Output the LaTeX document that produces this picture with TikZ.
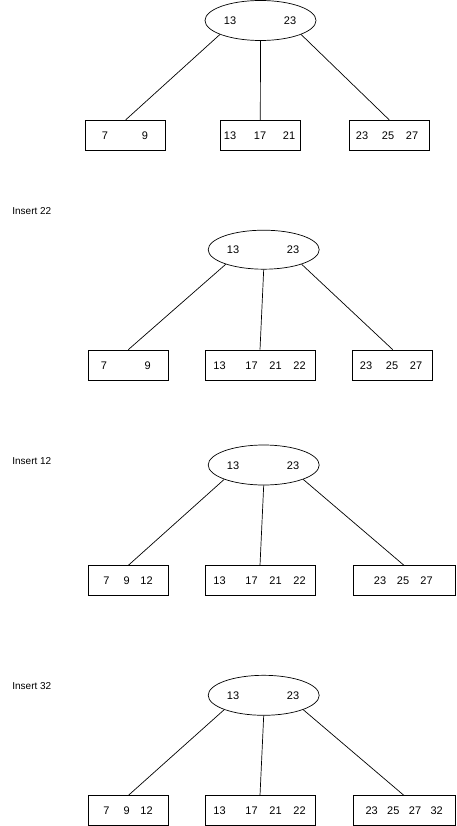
\documentclass[tikz,border=0pt]{standalone}
\usepackage{fontspec}
\setmainfont{Liberation Sans}
\usetikzlibrary{shapes.geometric}
\begin{document}
\begin{tikzpicture}[x=1pt,y=-1pt,line width=0.7pt,
  every node/.style={font=\fontsize{11}{13}\selectfont,text height=8pt,text depth=0pt},
  title/.style={anchor=west,inner sep=0pt,font=\fontsize{10}{12}\selectfont},
  keys/.style={draw,ellipse,minimum width=111pt,minimum height=40pt,inner sep=0pt},
  leaf/.style={draw,rectangle,minimum width=80pt,minimum height=30pt,inner sep=0pt}]
\useasboundingbox (0,0) rectangle (456,826);
% initial tree
\node[keys] (r1) at (260.5,20.5) {};
\node (r1a) at (230,20.5) {13};
\node (r1b) at (290,20.5) {23};
\node[leaf] (a1) at (125.7,135.2) {};
\node[leaf] (b1) at (260.3,135.2) {};
\node[leaf] (c1) at (389.2,135.2) {};
\node (a1x) at (105,135.2) {7};
\node (a1y) at (145,135.2) {9};
\node (b1x) at (230,135.2) {13};
\node (b1y) at (260,135.2) {17};
\node (b1z) at (289,135.2) {21};
\node (c1x) at (362,135.2) {23};
\node (c1y) at (388,135.2) {25};
\node (c1z) at (412,135.2) {27};
\draw (r1.199) -- (a1.north);
\draw (r1.south) -- (b1.north);
\draw (r1.341) -- (c1.north);
% insert 22
\node[title] (t2) at (12,210.7) {Insert 22};
\node[keys,minimum height=39pt] (r2) at (263.7,249.7) {};
\node (r2a) at (233,249.7) {13};
\node (r2b) at (293,249.7) {23};
\node[leaf] (a2) at (128.3,365) {};
\node[leaf,minimum width=110pt] (b2) at (260,365) {};
\node[leaf] (c2) at (392.7,365) {};
\node (a2x) at (104,365) {7};
\node (a2y) at (147.7,365) {9};
\node (b2x) at (219.5,365) {13};
\node (b2y) at (251.5,365) {17};
\node (b2z) at (275.5,365) {21};
\node (b2w) at (299.5,365) {22};
\node (c2x) at (366,365) {23};
\node (c2y) at (392,365) {25};
\node (c2z) at (416,365) {27};
\draw (r2.201) -- (a2.north);
\draw (r2.south) -- (b2.north);
\draw (r2.339) -- (c2.north);
% insert 12
\node[title] (t3) at (12,460.7) {Insert 12};
\node[keys] (r3) at (263.7,465) {};
\node (r3a) at (233,465) {13};
\node (r3b) at (293,465) {23};
\node[leaf] (a3) at (128.3,580.7) {};
\node[leaf,minimum width=110pt] (b3) at (260,580.7) {};
\node[leaf,minimum width=102pt] (c3) at (404,580.7) {};
\node (a3x) at (106.5,580.7) {7};
\node (a3y) at (126.7,580.7) {9};
\node (a3z) at (146.5,580.7) {12};
\node (b3x) at (219.5,580.7) {13};
\node (b3y) at (251.5,580.7) {17};
\node (b3z) at (275.5,580.7) {21};
\node (b3w) at (299.5,580.7) {22};
\node (c3x) at (380,580.7) {23};
\node (c3y) at (403,580.7) {25};
\node (c3z) at (426.5,580.7) {27};
\draw (r3.200) -- (a3.north);
\draw (r3.south) -- (b3.north);
\draw (r3.340) -- (c3.north);
% insert 32
\node[title] (t4) at (12,685.7) {Insert 32};
\node[keys] (r4) at (263.7,695.3) {};
\node (r4a) at (233,695.3) {13};
\node (r4b) at (293,695.3) {23};
\node[leaf] (a4) at (128.3,810.8) {};
\node[leaf,minimum width=110pt] (b4) at (260,810.8) {};
\node[leaf,minimum width=102pt] (c4) at (404,810.8) {};
\node (a4x) at (106.5,810.8) {7};
\node (a4y) at (126.7,810.8) {9};
\node (a4z) at (146.5,810.8) {12};
\node (b4x) at (219.5,810.8) {13};
\node (b4y) at (251.5,810.8) {17};
\node (b4z) at (275.5,810.8) {21};
\node (b4w) at (299.5,810.8) {22};
\node (c4x) at (371.7,810.8) {23};
\node (c4y) at (393.3,810.8) {25};
\node (c4z) at (415,810.8) {27};
\node (c4w) at (436.7,810.8) {32};
\draw (r4.200) -- (a4.north);
\draw (r4.south) -- (b4.north);
\draw (r4.340) -- (c4.north);
\end{tikzpicture}
\end{document}
